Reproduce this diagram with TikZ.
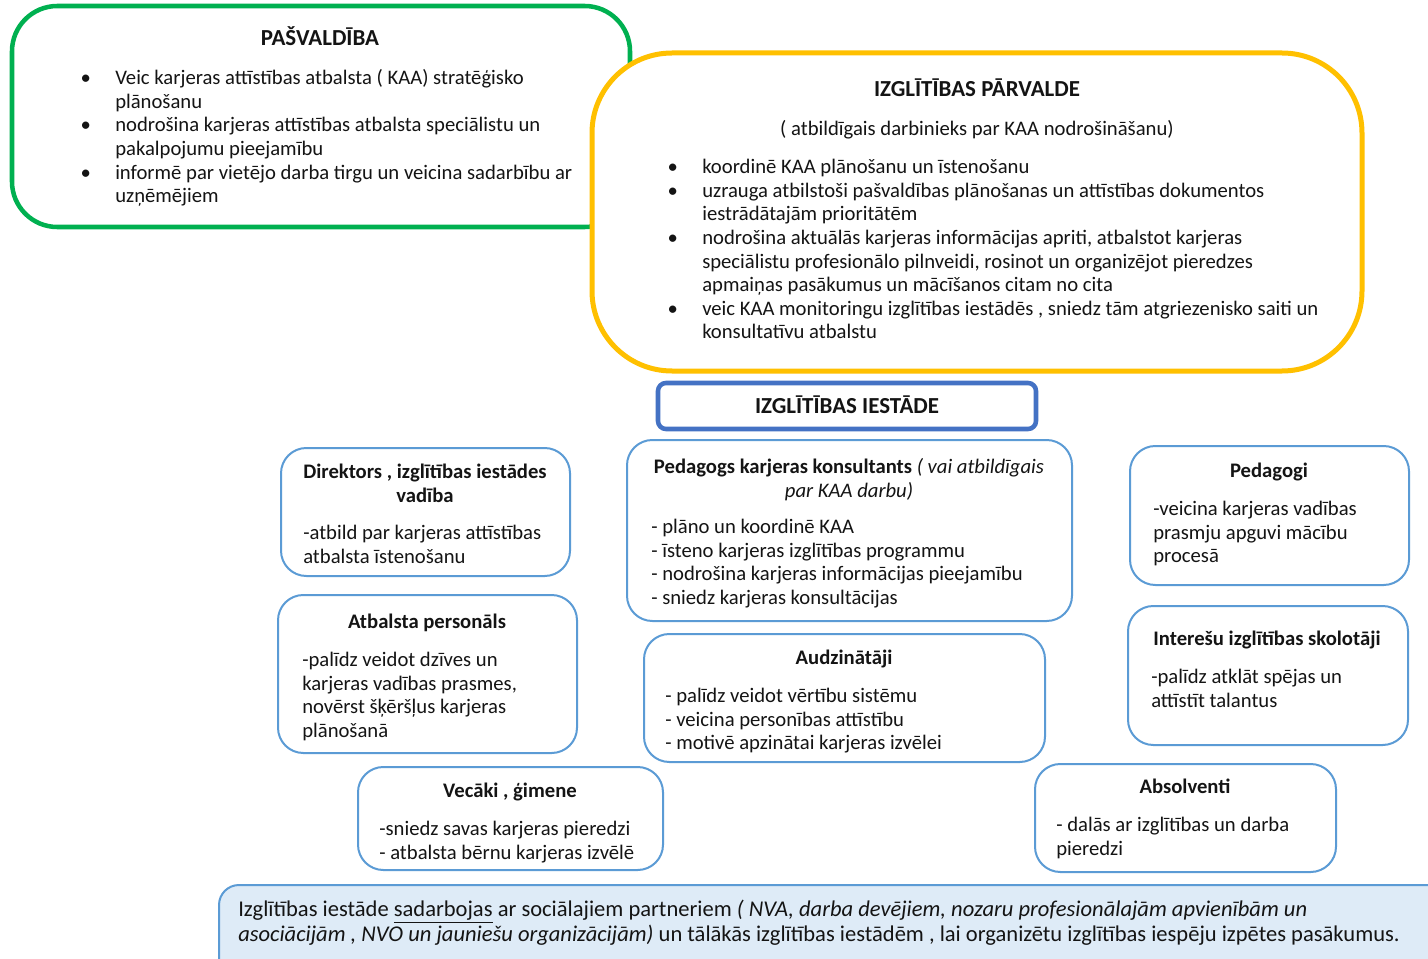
\documentclass[tikz,border=0pt]{standalone}
\usepackage{fontspec}
\setmainfont{Carlito}
\definecolor{cgreen}{HTML}{00B050}
\definecolor{cyellow}{HTML}{FFC000}
\definecolor{cdblue}{HTML}{4472C4}
\definecolor{clblue}{HTML}{5B9BD5}
\definecolor{cfill}{HTML}{DEEBF7}
\definecolor{ctext}{HTML}{141414}
\newcommand{\bul}{\makebox[27pt][l]{\hspace{1pt}•}}
\newcommand{\ind}{\hspace*{27pt}}
\newcommand{\fs}{\fontsize{15.5pt}{17.7pt}\selectfont}
\newcommand{\fsc}{\fontsize{17.2pt}{17.7pt}\selectfont}
\newcommand{\fsb}{\fontsize{16.9pt}{18.75pt}\selectfont}
\tikzset{
  txt/.style={inner sep=0pt, anchor=north west, align=left, font=\fs, text=ctext},
  ttl/.style={inner sep=0pt, anchor=north, align=center, font=\fs\bfseries, text=ctext},
  capttl/.style={inner sep=0pt, anchor=base, font=\fsc\bfseries, text=ctext},
  sbox/.style={draw=clblue, line width=1.5pt, rounded corners=19pt, fill=white},
}
\begin{document}
\begin{tikzpicture}[x=0.75pt,y=-0.75pt]
\useasboundingbox (0,0) rectangle (1428,959);
\clip (0,0) rectangle (1428,959);
\fill[white] (0,0) rectangle (1428,959);
% Pasvaldiba
\draw[cgreen, line width=3.4pt, rounded corners=34pt, fill=white] (12,6) rectangle (630,227);
\node[capttl] (pt) at (320,45.3) {PAŠVALDĪBA};
\node[txt] (pb) at (79,68) {\strut\bul Veic karjeras attīstības atbalsta ( KAA) stratēģisko\\
\ind plānošanu\\
\bul nodrošina karjeras attīstības atbalsta speciālistu un\\
\ind pakalpojumu pieejamību\\
\bul informē par vietējo darba tirgu un veicina sadarbību ar\\
\ind uzņēmējiem};
% Izglitibas parvalde
\draw[cyellow, line width=3.75pt, rounded corners=60pt, fill=white] (592,53) rectangle (1362,371);
\node[capttl] (it) at (977,96.3) {IZGLĪTĪBAS PĀRVALDE};
\node[ttl, font=\fs] (is) at (977,119) {\strut ( atbildīgais darbinieks par KAA nodrošināšanu)};
\node[txt] (ib) at (666,157) {\strut\bul koordinē KAA plānošanu un īstenošanu\\
\bul uzrauga atbilstoši pašvaldības plānošanas un attīstības dokumentos\\
\ind iestrādātajām prioritātēm\\
\bul nodrošina aktuālās karjeras informācijas apriti, atbalstot karjeras\\
\ind speciālistu profesionālo pilnveidi, rosinot un organizējot pieredzes\\
\ind apmaiņas pasākumus un mācīšanos citam no cita\\
\bul veic KAA monitoringu izglītības iestādēs , sniedz tām atgriezenisko saiti un\\
\ind konsultatīvu atbalstu};
% Izglitibas iestade
\draw[cdblue, line width=3.4pt, rounded corners=6pt, fill=white] (658,383) rectangle (1036,429);
\node[capttl] (et) at (847,413.3) {IZGLĪTĪBAS IESTĀDE};
% Direktors
\draw[sbox] (281,448) rectangle (570,576);
\node[ttl] (dt) at (425,462) {\strut Direktors , izglītības iestādes\\vadība};
\node[txt] (db) at (303,523) {\strut -atbild par karjeras attīstības\\atbalsta īstenošanu};
% Pedagogs karjeras konsultants
\draw[sbox] (627,440) rectangle (1072,621);
\node[ttl] (kt) at (849,457) {\strut Pedagogs karjeras konsultants \textit{\mdseries( vai atbildīgais}\\\textit{\mdseries par KAA darbu)}};
\node[txt] (kb) at (651,517) {\strut - plāno un koordinē KAA\\- īsteno karjeras izglītības programmu\\- nodrošina karjeras informācijas pieejamību\\- sniedz karjeras konsultācijas};
% Pedagogi
\draw[sbox] (1130,446) rectangle (1409,585);
\node[ttl] (gt) at (1269,461) {\strut Pedagogi};
\node[txt] (gb) at (1153,499) {\strut -veicina karjeras vadības\\prasmju apguvi mācību\\procesā};
% Atbalsta personals
\draw[sbox] (278,595) rectangle (577,753);
\node[ttl] (at) at (427,612) {\strut Atbalsta personāls};
\node[txt] (ab) at (302,650) {\strut -palīdz veidot dzīves un\\karjeras vadības prasmes,\\novērst šķēršļus karjeras\\plānošanā};
% Audzinataji
\draw[sbox] (644,634) rectangle (1045,762);
\node[ttl] (ut) at (844,648) {\strut Audzinātāji};
\node[txt] (ub) at (665,686) {\strut - palīdz veidot vērtību sistēmu\\- veicina personības attīstību\\- motivē apzinātai karjeras izvēlei};
% Interesu
\draw[sbox] (1128,606) rectangle (1408,745);
\node[ttl] (nt) at (1267,629) {\strut Interešu izglītības skolotāji};
\node[txt] (nb) at (1151,667) {\strut -palīdz atklāt spējas un\\attīstīt talantus};
% Vecaki
\draw[sbox] (358,767) rectangle (663,870);
\node[ttl] (vt) at (510,781) {\strut Vecāki , ģimene};
\node[txt] (vb) at (379,819) {\strut -sniedz savas karjeras pieredzi\\- atbalsta bērnu karjeras izvēlē};
% Absolventi
\draw[sbox] (1035,764) rectangle (1336,872);
\node[ttl] (st) at (1185,777) {\strut Absolventi};
\node[txt] (sb) at (1056,815) {\strut - dalās ar izglītības un darba\\pieredzi};
% Bottom
\draw[clblue, line width=1.5pt, rounded corners=15pt, fill=cfill] (219,885) rectangle (1470,1000);
\node[txt, font=\fsb] (bb) at (238,899) {\strut Izglītības iestāde \underline{sadarbojas} ar sociālajiem partneriem \textit{( NVA, darba devējiem, nozaru profesionālajām apvienībām un}\\
\textit{asociācijām , NVO un jauniešu organizācijām)} un tālākās izglītības iestādēm , lai organizētu izglītības iespēju izpētes pasākumus.};
\end{tikzpicture}
\end{document}
